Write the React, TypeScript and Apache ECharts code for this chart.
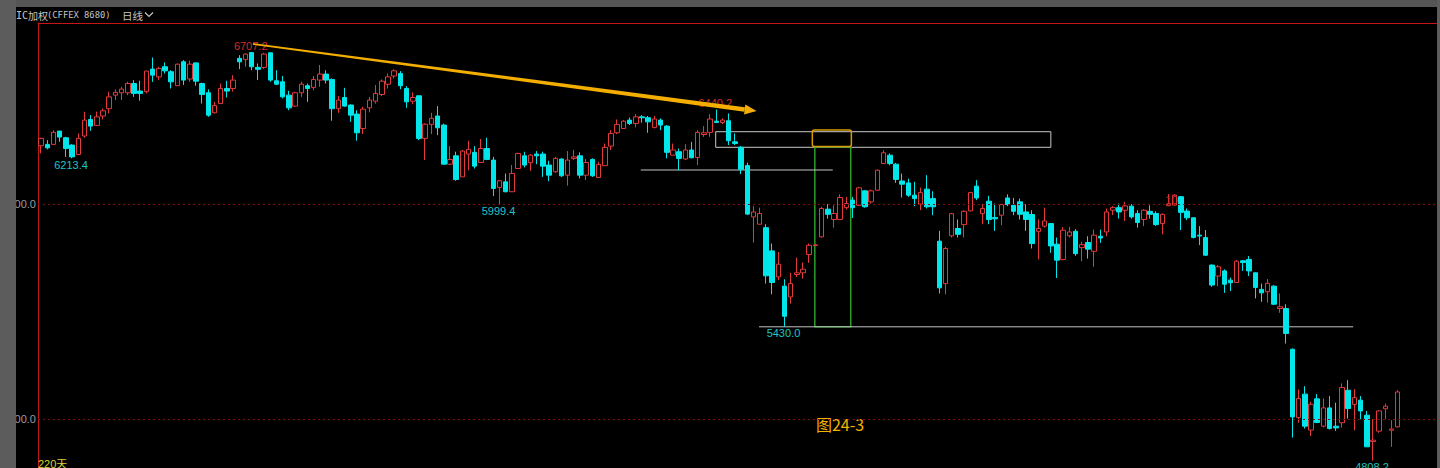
import React, { useEffect, useRef } from "react";
import * as echarts from "echarts";

// Daily OHLC of the IC weighted index (CFFEX 8680), 220 sessions.
const opens = [
  6272, 6278, 6278, 6340, 6309, 6275, 6231, 6317, 6394, 6366, 6410, 6444, 6507, 6518, 6518, 6561, 6526, 6523, 6628, 6592,
  6639, 6616, 6551, 6662, 6582, 6657, 6561, 6518, 6425, 6468, 6538, 6538, 6678, 6673, 6705, 6636, 6636, 6704, 6574, 6569,
  6507, 6456, 6518, 6551, 6543, 6577, 6605, 6580, 6444, 6496, 6461, 6419, 6352, 6448, 6479, 6510, 6558, 6596, 6608, 6538,
  6479, 6504, 6306, 6371, 6410, 6368, 6186, 6225, 6127, 6233, 6241, 6194, 6259, 6205, 6078, 6104, 6058, 6166, 6225, 6193,
  6233, 6233, 6182, 6151, 6210, 6135, 6213, 6225, 6135, 6208, 6124, 6179, 6270, 6332, 6352, 6391, 6375, 6406, 6402, 6357,
  6391, 6363, 6228, 6244, 6210, 6252, 6217, 6324, 6334, 6386, 6380, 6388, 6290, 6265, 6180, 5941, 5907, 5891, 5783, 5662,
  5619, 5569, 5673, 5681, 5766, 5808, 5848, 5977, 5929, 5929, 5984, 6019, 5995, 6062, 6011, 6065, 6189, 6228, 6186, 6108,
  6099, 6042, 6000, 6070, 6026, 5828, 5631, 5853, 5887, 5905, 5969, 6084, 5956, 6014, 5938, 5949, 6029, 5995, 6011, 5964,
  5952, 5874, 5898, 5910, 5814, 5743, 5853, 5874, 5798, 5822, 5781, 5851, 5871, 5972, 5984, 5972, 5991, 5957, 5929, 5967,
  5957, 5910, 5993, 5996, 6035, 5968, 5937, 5856, 5845, 5717, 5666, 5690, 5647, 5636, 5737, 5743, 5681, 5604, 5593, 5619,
  5515, 5515, 5326, 5008, 5117, 4950, 5095, 4968, 5053, 4968, 4984, 5135, 5069, 5089, 5019, 4897, 4945, 5049, 4949, 4965,
];
const closes = [
  6306, 6262, 6334, 6312, 6259, 6220, 6306, 6391, 6363, 6406, 6434, 6499, 6520, 6535, 6561, 6515, 6515, 6619, 6600, 6631,
  6620, 6569, 6651, 6577, 6651, 6572, 6510, 6414, 6459, 6538, 6526, 6577, 6662, 6698, 6639, 6627, 6698, 6577, 6558, 6499,
  6448, 6518, 6558, 6538, 6580, 6605, 6577, 6444, 6484, 6456, 6414, 6332, 6442, 6484, 6515, 6572, 6592, 6620, 6551, 6476,
  6496, 6306, 6372, 6399, 6355, 6186, 6208, 6115, 6247, 6255, 6177, 6259, 6208, 6073, 6109, 6058, 6143, 6236, 6182, 6228,
  6225, 6177, 6135, 6213, 6132, 6205, 6220, 6135, 6194, 6132, 6185, 6264, 6329, 6371, 6386, 6375, 6406, 6402, 6383, 6396,
  6368, 6241, 6252, 6213, 6252, 6216, 6334, 6332, 6396, 6380, 6391, 6295, 6282, 6162, 5954, 5964, 5957, 5667, 5636, 5721,
  5479, 5631, 5681, 5698, 5809, 5811, 5980, 5953, 5957, 6031, 6003, 5984, 6076, 5988, 6062, 6158, 6239, 6189, 6115, 6093,
  6042, 6026, 6054, 5988, 5988, 5611, 5794, 5956, 5860, 5967, 6054, 6029, 5980, 5929, 5932, 5998, 5998, 5967, 5953, 5929,
  5817, 5887, 5922, 5806, 5740, 5879, 5871, 5770, 5812, 5791, 5856, 5843, 5964, 5984, 5964, 5992, 5941, 5915, 5972, 5953,
  5905, 5953, 5999, 6042, 5962, 5937, 5845, 5852, 5763, 5624, 5709, 5628, 5635, 5735, 5729, 5690, 5613, 5588, 5632, 5535,
  5523, 5399, 5011, 5097, 4968, 5070, 4985, 5053, 4957, 4960, 5148, 5050, 5101, 5039, 4872, 4903, 5039, 5061, 4955, 5127,
];
const lows = [
  6236, 6255, 6278, 6290, 6220, 6213.4, 6228, 6309, 6341, 6363, 6394, 6422, 6484, 6484, 6507, 6499, 6481, 6515, 6569, 6577,
  6608, 6538, 6551, 6554, 6569, 6551, 6468, 6406, 6422, 6468, 6496, 6523, 6628, 6639, 6623, 6577, 6628, 6569, 6554, 6492,
  6437, 6453, 6499, 6476, 6530, 6546, 6561, 6388, 6425, 6453, 6383, 6295, 6326, 6427, 6468, 6503, 6538, 6585, 6535, 6448,
  6465, 6298, 6205, 6326, 6321, 6186, 6182, 6109, 6127, 6158, 6166, 6193, 6205, 6038, 5999.4, 6055, 6058, 6166, 6171, 6155,
  6186, 6127, 6107, 6146, 6127, 6086, 6205, 6120, 6112, 6127, 6124, 6179, 6252, 6326, 6352, 6368, 6357, 6379, 6332, 6352,
  6344, 6213, 6228, 6158, 6205, 6213, 6182, 6313, 6313, 6380, 6372, 6275, 6275, 6140, 5949, 5822, 5907, 5631, 5581, 5647,
  5430.0, 5538, 5662, 5654, 5727, 5805, 5845, 5933, 5891, 5926, 5975, 5936, 5992, 5984, 6003, 6062, 6186, 6181, 6099, 6031,
  6034, 5991, 5972, 5980, 5949, 5585, 5581, 5845, 5845, 5845, 5967, 6019, 5907, 5907, 5876, 5902, 5991, 5949, 5929, 5876,
  5794, 5743, 5891, 5774, 5657, 5739, 5845, 5760, 5735, 5747, 5709, 5820, 5851, 5949, 5933, 5922, 5933, 5891, 5898, 5933,
  5899, 5860, 5991, 5993, 5880, 5926, 5841, 5810, 5759, 5616, 5619, 5588, 5596, 5635, 5690, 5666, 5562, 5546, 5542, 5531,
  5495, 5352, 4915, 4984, 4957, 4922, 4985, 4962, 4953, 4946, 4962, 5003, 4949, 5000, 4872, 4808.2, 4937, 5000, 4872, 4962,
];
const highs = [
  6309, 6298, 6344, 6340, 6313, 6279, 6329, 6430, 6414, 6430, 6445, 6523, 6534, 6546, 6569, 6577, 6574, 6619, 6682, 6639,
  6659, 6623, 6654, 6670, 6667, 6659, 6565, 6534, 6475, 6561, 6574, 6600, 6693, 6701, 6707.2, 6654, 6704, 6704, 6623, 6596,
  6527, 6523, 6569, 6561, 6596, 6647, 6623, 6585, 6503, 6541, 6464, 6437, 6453, 6499, 6554, 6580, 6608, 6628, 6619, 6549,
  6520, 6507, 6375, 6425, 6456, 6375, 6270, 6244, 6252, 6295, 6270, 6303, 6309, 6220, 6112, 6143, 6182, 6239, 6244, 6233,
  6247, 6244, 6202, 6220, 6213, 6247, 6252, 6241, 6210, 6213, 6197, 6282, 6344, 6394, 6391, 6403, 6419, 6414, 6410, 6410,
  6399, 6368, 6282, 6259, 6279, 6290, 6344, 6363, 6419, 6440.2, 6399, 6422, 6329, 6270, 6193, 5991, 5984, 5907, 5817, 5778,
  5651, 5681, 5752, 5729, 5817, 5814, 5988, 6000, 5995, 6046, 6034, 6034, 6081, 6065, 6068, 6161, 6251, 6236, 6192, 6142,
  6119, 6104, 6077, 6135, 6060, 5876, 5802, 5960, 5929, 5972, 6057, 6112, 6000, 6039, 6003, 6000, 6046, 6029, 6026, 6000,
  5972, 5929, 5984, 5913, 5845, 5894, 5894, 5884, 5825, 5851, 5882, 5882, 5980, 5991, 6003, 6011, 6000, 5972, 5977, 5995,
  5967, 5957, 6047, 6047, 6038, 5980, 5938, 5898, 5880, 5720, 5717, 5697, 5659, 5740, 5740, 5759, 5683, 5631, 5652, 5624,
  5585, 5535, 5329, 5139, 5154, 5081, 5117, 5097, 5108, 5077, 5167, 5182, 5140, 5108, 5039, 5000, 5042, 5073, 4996, 5135,
];

// Six empty sessions of right-hand padding after the last bar.
const sessionCount = 220;
const paddedSlots = 226;
const categories = Array.from({ length: paddedSlots }, (_, i) => `D${i + 1}`);

// Reference price levels drawn as dotted guide lines.
const guideLevels = [6000, 5000];

// Extreme-price callouts: [bar index, which price, colour key].
const callouts: Array<[number, "high" | "low", "up" | "down"]> = [
  [34, "high", "up"],
  [5, "low", "down"],
  [74, "low", "down"],
  [109, "high", "up"],
  [120, "low", "down"],
  [215, "low", "down"],
];

const UP = "#e2393b";
const DOWN = "#00e6ea";
const UP_TEXT = "#d42a2a";
const DOWN_TEXT = "#1fc4c6";
const AXIS_RED = "#c41616";
const HEADER = "#c4c4c4";

export default function App() {
  const ref = useRef<HTMLDivElement>(null);

  useEffect(() => {
    if (!ref.current) return;
    const chart = echarts.init(ref.current, null, { renderer: "svg" });

    const candles = opens.map((o, i) => [o, closes[i], lows[i], highs[i]]);

    chart.setOption({
      animation: false,
      backgroundColor: "#000000",
      grid: { left: 38, top: 23, width: 1400, height: 445 },
      xAxis: {
        type: "category",
        data: categories,
        position: "top",
        boundaryGap: true,
        axisLine: { onZero: false, lineStyle: { color: AXIS_RED, width: 1 } },
        axisTick: { show: false },
        axisLabel: { show: false },
        splitLine: { show: false },
      },
      yAxis: {
        type: "value",
        min: 4773.6,
        max: 6842.4,
        position: "left",
        axisLine: { show: true, lineStyle: { color: AXIS_RED, width: 1 } },
        axisTick: { show: false },
        axisLabel: { show: false },
        splitLine: { show: false },
      },
      series: [
        {
          type: "candlestick",
          data: candles.slice(0, sessionCount),
          barWidth: 5,
          itemStyle: {
            color: "#000000",
            color0: DOWN,
            borderColor: UP,
            borderColor0: DOWN,
            borderWidth: 1,
          },
          markLine: {
            silent: true,
            symbol: ["none", "none"],
            lineStyle: { color: "#7e0e0e", type: [2, 3], width: 1 },
            label: {
              show: true,
              position: "start",
              distance: 2,
              color: "#9c9ca2",
              fontSize: 11,
              fontFamily: "Liberation Sans, Arial, sans-serif",
              formatter: (p: any) => Number(p.value).toFixed(1),
            },
            data: guideLevels.map((v) => ({ yAxis: v })),
          },
          z: 3,
        },
      ],
    });

    // Pixel position of a (fractional) bar index and a price.
    const px = (ix: number, v: number): [number, number] => {
      const i0 = Math.floor(ix);
      const p0 = chart.convertToPixel({ seriesIndex: 0 }, [i0, v]) as number[];
      const p1 = chart.convertToPixel({ seriesIndex: 0 }, [i0 + 1, v]) as number[];
      const f = ix - i0;
      return [p0[0] + (p1[0] - p0[0]) * f, p0[1]];
    };

    const graphics: any[] = [];
    const font = '11px "Liberation Sans", Arial, sans-serif';

    // Price callouts at the swing highs and lows.
    callouts.forEach(([i, kind, tone]) => {
      const v = kind === "high" ? highs[i] : lows[i];
      const [x, y] = px(i, v);
      graphics.push({
        type: "text",
        x: x - 1,
        y: kind === "high" ? y - 1 : y + 1,
        z: 4,
        style: {
          text: v.toFixed(1),
          fill: tone === "up" ? UP_TEXT : DOWN_TEXT,
          font,
          textAlign: "center",
          align: "center",
          textVerticalAlign: kind === "high" ? "bottom" : "top",
          verticalAlign: kind === "high" ? "bottom" : "top",
        },
      });
    });
    {
      const [x, y] = px(183, 6018);
      graphics.push({
        type: "text",
        x: x - 3,
        y,
        z: 4,
        style: { text: "10", fill: UP_TEXT, font, textAlign: "center", align: "center", textVerticalAlign: "middle", verticalAlign: "middle" },
      });
    }

    // Downward trend arrow from the 6707.2 top.
    {
      const [sx, sy] = px(34.2, 6745);
      const [ex, ey] = px(115.5, 6433);
      const dx = ex - sx;
      const dy = ey - sy;
      const len = Math.hypot(dx, dy);
      const ux = dx / len;
      const uy = dy / len;
      const nx = -uy;
      const ny = ux;
      const head = 12;
      const bx = ex - ux * head;
      const by = ey - uy * head;
      const gold = "#f4ae00";
      graphics.push({
        type: "polygon",
        z: 5,
        shape: {
          points: [
            [sx + nx * 0.9, sy + ny * 0.9],
            [bx + nx * 2.2, by + ny * 2.2],
            [bx - nx * 2.2, by - ny * 2.2],
            [sx - nx * 0.9, sy - ny * 0.9],
          ],
        },
        style: { fill: gold },
      });
      graphics.push({
        type: "polygon",
        z: 5,
        shape: {
          points: [
            [bx + nx * 5, by + ny * 5],
            [ex, ey],
            [bx - nx * 5, by - ny * 5],
          ],
        },
        style: { fill: gold },
      });
    }

    // Resistance box, breakout window and support lines.
    const box = (i0: number, i1: number, vTop: number, vBot: number, stroke: string, lw: number, r = 0) => {
      const [x0, y0] = px(i0, vTop);
      const [x1, y1] = px(i1, vBot);
      graphics.push({
        type: "rect",
        z: 1,
        shape: { x: x0, y: y0, width: x1 - x0, height: y1 - y0, r },
        style: { fill: "none", stroke, lineWidth: lw },
      });
    };
    const hline = (i0: number, i1: number, v: number) => {
      const [x0, y] = px(i0, v);
      const [x1] = px(i1, v);
      graphics.push({
        type: "line",
        z: 1,
        shape: { x1: x0, y1: y, x2: x1, y2: y },
        style: { stroke: "#c4c4c4", lineWidth: 1 },
      });
    };
    box(108.9, 163.0, 6337, 6264.5, "#c8c8c8", 1);
    box(124.9, 130.7, 6266, 5430, "#2c9e2c", 1.5);
    box(124.5, 130.8, 6345, 6268, "#d99c00", 1.5, 2);
    hline(96.8, 127.8, 6159);
    hline(115.9, 211.8, 5430);

    // Caption and period counter.
    graphics.push({
      type: "text",
      x: 840,
      y: 424,
      z: 4,
      style: {
        text: "图24-3",
        fill: "#f2b200",
        font: '16px "Noto Sans CJK SC", "Liberation Sans", sans-serif',
        textAlign: "center",
        align: "center",
        textVerticalAlign: "middle",
        verticalAlign: "middle",
      },
    });
    graphics.push({
      type: "text",
      x: 38,
      y: 458,
      z: 4,
      style: {
        text: "220天",
        fill: "#d8d030",
        font: '11px "Liberation Sans", "Noto Sans CJK SC", sans-serif',
        textAlign: "left",
        align: "left",
        textVerticalAlign: "top",
        verticalAlign: "top",
      },
    });

    // Window frame and header.
    graphics.push({ type: "rect", z: 100, shape: { x: 0, y: 0, width: 1440, height: 7 }, style: { fill: "#555555" } });
    graphics.push({ type: "rect", z: 100, shape: { x: 0, y: 0, width: 16, height: 468 }, style: { fill: "#5c5c5c" } });
    graphics.push({ type: "rect", z: 100, shape: { x: 1437, y: 0, width: 3, height: 468 }, style: { fill: "#5c5c5c" } });
    const headerText = (text: string, x: number, f: string) =>
      graphics.push({
        type: "text",
        x,
        y: 15,
        z: 101,
        style: {
          text,
          fill: HEADER,
          font: f,
          textAlign: "left",
          align: "left",
          textVerticalAlign: "middle",
          verticalAlign: "middle",
        },
      });
    const mono = '"DejaVu Sans Mono", "Liberation Mono", monospace';
    const cjk = '"Noto Sans CJK SC", sans-serif';
    headerText("IC", 16, `10px ${mono}`);
    headerText("加权", 28, `10px ${cjk}`);
    headerText("(CFFEX 8680)", 47, `8.8px ${mono}`);
    headerText("日线", 122, `10.5px ${cjk}`);
    graphics.push({
      type: "polyline",
      z: 101,
      shape: { points: [[145, 12.5], [149, 16.5], [153, 12.5]] },
      style: { stroke: HEADER, lineWidth: 1.2, fill: "none" },
    });

    chart.setOption({ graphic: graphics });

    return () => chart.dispose();
  }, []);

  return (
    <div
      ref={ref}
      style={{ position: "fixed", left: 0, top: 0, width: 1440, height: 468, background: "#000" }}
    />
  );
}
